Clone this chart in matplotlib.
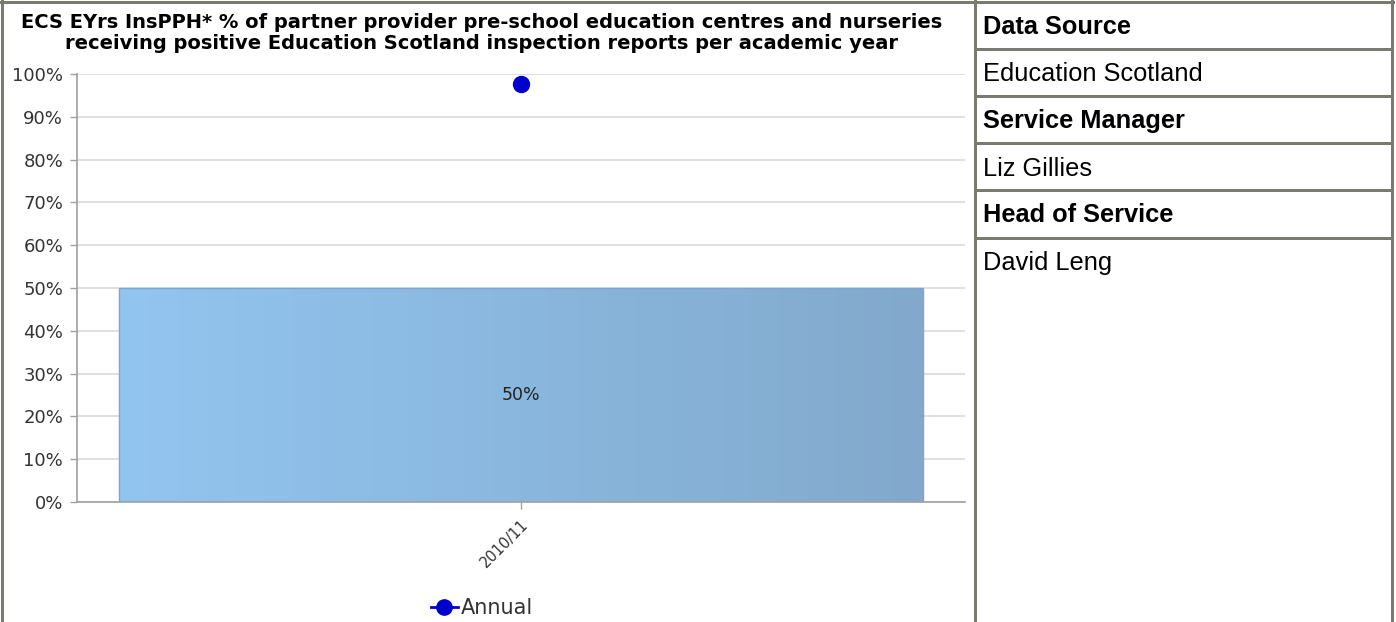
import numpy as np
import matplotlib
matplotlib.use("Agg")
import matplotlib.pyplot as plt
from matplotlib.lines import Line2D

# data
categories = ["2010/11"]
bar_values = [50]
annual_values = [97.7]
yticks = [0, 10, 20, 30, 40, 50, 60, 70, 80, 90, 100]
title = ("ECS EYrs InsPPH* % of partner provider pre-school education centres and nurseries\n"
         "receiving positive Education Scotland inspection reports per academic year")
info_rows = [("Data Source", True), ("Education Scotland", False),
             ("Service Manager", True), ("Liz Gillies", False),
             ("Head of Service", True), ("David Leng", False)]

W, H = 1396, 622
fig = plt.figure(figsize=(W / 100, H / 100), dpi=100)
border = "#7a7b70"

ax = fig.add_axes([77 / W, 1 - 502 / H, (965 - 77) / W, (502 - 74) / H])
x = np.arange(len(categories))

# bar with horizontal gradient
bars = ax.bar(x, bar_values, width=0.905, facecolor="none", edgecolor="#7aa6d6", linewidth=1.0, zorder=2)
grad = np.linspace(0, 1, 256).reshape(1, -1)
cmap = matplotlib.colors.LinearSegmentedColormap.from_list("g", ["#92c5f0", "#82a9cc"])
for b, v in zip(bars, bar_values):
    im = ax.imshow(grad, cmap=cmap, aspect="auto", zorder=1.5,
                   extent=[b.get_x(), b.get_x() + b.get_width(), 0, b.get_height()])
    im.set_clip_path(b)
    ax.text(b.get_x() + b.get_width() / 2, b.get_height() / 2, f"{v}%",
            ha="center", va="center", fontsize=12.5, color="#222222", zorder=4)

ax.plot(x, annual_values, color="#0000cc", marker="o", markersize=11.5, linewidth=2, zorder=5)

ax.set_xlim(-0.5, len(categories) - 0.5)
ax.set_ylim(0, 100)
ax.set_yticks(yticks)
ax.set_yticklabels([f"{v}%" for v in yticks], fontsize=13, color="#333333")
ax.set_xticks(x)
ax.set_xticklabels(categories, rotation=45, ha="right", rotation_mode="anchor", fontsize=10.5, color="#333333")
ax.grid(axis="y", color="#d9d9d9", linewidth=1.2, zorder=0)
ax.set_axisbelow(True)
for s in ["top", "right"]:
    ax.spines[s].set_visible(False)
for s in ["left", "bottom"]:
    ax.spines[s].set_color("#a0a0a0")
    ax.spines[s].set_linewidth(1.2)
ax.tick_params(axis="both", color="#a0a0a0", length=5, width=1)
ax.tick_params(axis="y", pad=5)
ax.tick_params(axis="x", pad=6)

fig.text(482 / W, 1 - 33 / H, title, ha="center", va="center", fontsize=14,
         fontweight="bold", color="#000000", linespacing=1.15)

# legend
handle = Line2D([], [], color="#0000cc", marker="o", markersize=11, linewidth=2)
fig.legend([handle], ["Annual"], loc="center", bbox_to_anchor=(482 / W, 1 - 608 / H),
           frameon=False, fontsize=15, handlelength=1.3, handletextpad=0.15, labelcolor="#333333")

# borders and info panel
def hline(y0, x0, x1, lw=3):
    fig.add_artist(Line2D([x0 / W, x1 / W], [1 - y0 / H, 1 - y0 / H], color=border, linewidth=lw * 0.72))

def vline(x0, y0, y1, lw=3):
    fig.add_artist(Line2D([x0 / W, x0 / W], [1 - y0 / H, 1 - y1 / H], color=border, linewidth=lw * 0.72))

hline(1.5, 0, W - 3)
vline(1.5, 0, H)
vline(975, 0, H)
vline(1392, 0, H)
row_edges = [1.5, 48.5, 95.5, 143, 190, 237.5]
for ye in row_edges[1:]:
    hline(ye, 975, 1392)
row_centers = [27, 74, 121, 168.5, 215, 263]
for (txt, bold), yc in zip(info_rows, row_centers):
    fig.text(983 / W, 1 - yc / H, txt, ha="left", va="center", fontsize=18.3,
             fontweight="bold" if bold else "normal", family="Liberation Sans", color="#000000")

fig.savefig("out.png", dpi=100)
